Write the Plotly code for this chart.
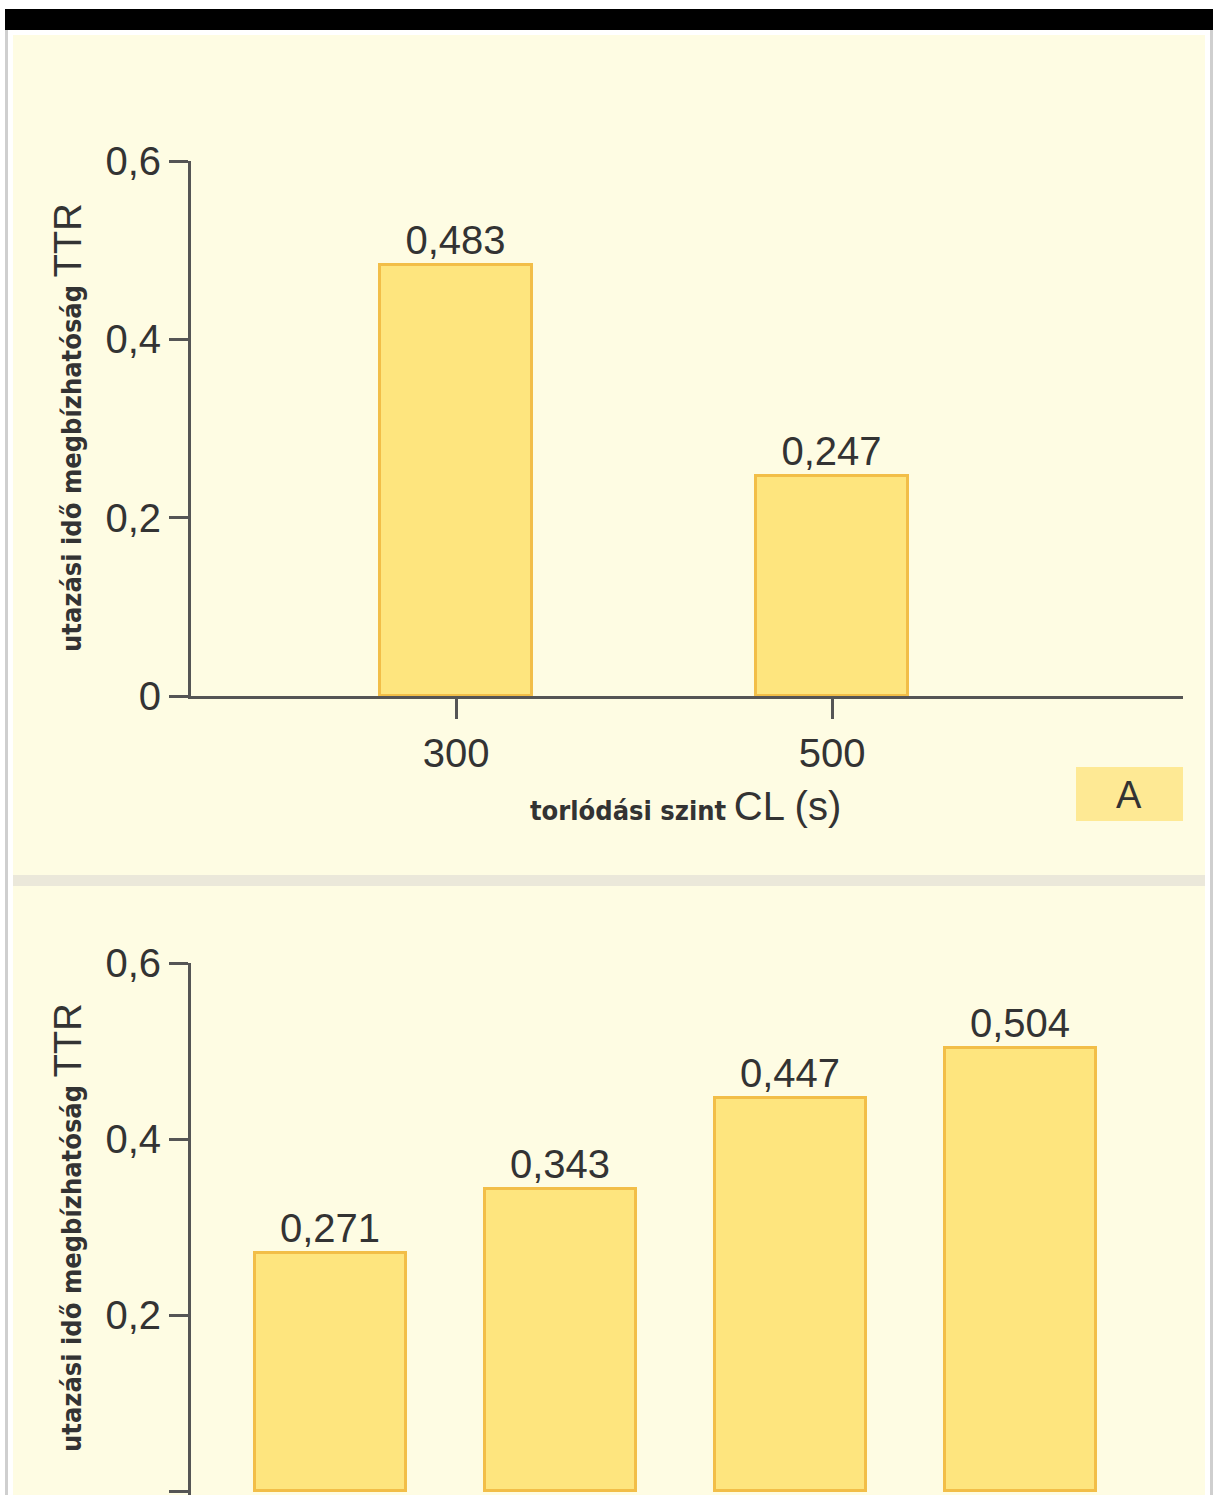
import plotly.graph_objects as go

# Travel time reliability (TTR) by congestion level
cl_levels = [300, 500]
ttr_by_cl = [0.483, 0.247]

# Second panel: four groups
group_pos = [0, 1, 2, 3]
ttr_by_group = [0.271, 0.343, 0.447, 0.504]

y_ticks = [0, 0.2, 0.4, 0.6]

W, H = 1213, 1495

BG = "#FEFCE3"
BAR_FILL = "#FEE57E"
BAR_EDGE = "#F2BE48"
AXIS = "#555555"
TEXT = "#333333"
FONT = "Liberation Sans"
NARROW = "Liberation Sans Narrow, DejaVu Sans Condensed, Liberation Sans"


def px(x):
    return x / W


def py(y):
    return 1 - y / H


fig = go.Figure()

bar_style = dict(
    marker=dict(color=BAR_FILL, line=dict(color=BAR_EDGE, width=3)),
    texttemplate="%{y:.3f}",
    textposition="outside",
    textfont=dict(family=FONT, size=40, color=TEXT),
    cliponaxis=False,
    showlegend=False,
    hoverinfo="skip",
)

fig.add_trace(go.Bar(x=cl_levels, y=ttr_by_cl, width=81, xaxis="x", yaxis="y", **bar_style))
fig.add_trace(go.Bar(x=group_pos, y=ttr_by_group, width=0.66, xaxis="x2", yaxis="y2", **bar_style))

axis_common = dict(
    showline=True, linecolor=AXIS, linewidth=3,
    ticks="outside", tickcolor=AXIS, tickwidth=3,
    showgrid=False, zeroline=False, fixedrange=True, automargin=False,
    tickfont=dict(family=FONT, size=40, color=TEXT),
)

fig.update_layout(
    width=W, height=H,
    margin=dict(l=0, r=0, t=0, b=0, pad=0, autoexpand=False),
    paper_bgcolor="#FFFFFF",
    plot_bgcolor="rgba(0,0,0,0)",
    separators=", ",
    bargap=0,
    xaxis=dict(domain=[px(191), px(1183)], range=[159.0, 686.7],
               tickvals=cl_levels, ticklen=20, anchor="y", **axis_common),
    yaxis=dict(domain=[py(696), py(161)], range=[0, 0.6],
               tickvals=y_ticks, ticklen=19, anchor="x", **axis_common),
    xaxis2=dict(domain=[px(191), px(1183)], range=[-0.607, 3.707],
                tickvals=group_pos, ticklen=20, showticklabels=False,
                anchor="y2", **axis_common),
    yaxis2=dict(domain=[0, py(963)], range=[-0.004, 0.6],
                tickvals=y_ticks, ticklen=19, anchor="x2", **axis_common),
)

shapes = [
    # cream page panel
    dict(x0=px(13), x1=px(1205), y0=py(1495), y1=py(35), fillcolor=BG),
    # black header strip
    dict(x0=px(5), x1=px(1213), y0=py(30), y1=py(9), fillcolor="#000000"),
    # side borders
    dict(x0=px(5), x1=px(8), y0=py(1495), y1=py(30), fillcolor="#CFCFCF"),
    dict(x0=px(1210), x1=px(1213), y0=py(1495), y1=py(30), fillcolor="#CFCFCF"),
    # divider between the two panels
    dict(x0=px(13), x1=px(1205), y0=py(886), y1=py(875), fillcolor="#EBE8DA"),
    # panel label box
    dict(x0=px(1076), x1=px(1183), y0=py(821), y1=py(767), fillcolor="#FEE994"),
]
for s in shapes:
    fig.add_shape(type="rect", xref="paper", yref="paper", layer="below",
                  line=dict(width=0), **s)

y_title = ("<b>utazási idő megbízhatóság</b> "
           "<span style='font-size:38px;font-family:Liberation Sans'>TTR</span>")

annotations = [
    dict(x=px(68), y=py(428), text=y_title, textangle=-90),
    dict(x=px(68), y=py(1228), text=y_title, textangle=-90),
    dict(x=px(685), y=py(806),
         text=("<b>torlódási szint</b> "
               "<span style='font-size:40px;font-family:Liberation Sans'>CL (s)</span>")),
    dict(x=px(1129), y=py(795), text="A",
         font=dict(family=FONT, size=38, color=TEXT)),
]
for a in annotations:
    a.setdefault("font", dict(family=NARROW, size=27, color=TEXT))
    fig.add_annotation(xref="paper", yref="paper", showarrow=False,
                       xanchor="center", yanchor="middle", **a)

fig.write_html("out.html")
